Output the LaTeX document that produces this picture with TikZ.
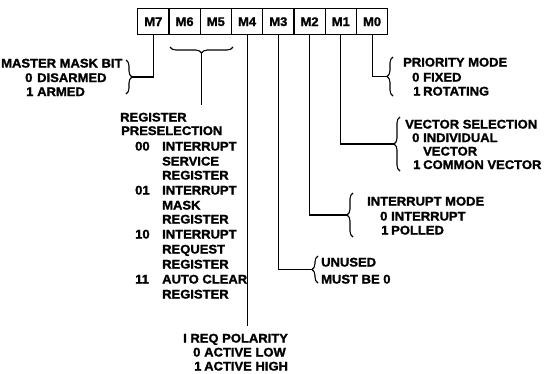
\documentclass[tikz,border=0pt]{standalone}
\usepackage{fontspec}
\newfontfamily\labfont{Liberation Sans}[UprightFont={* Bold},FakeStretch=1.04,FakeBold=1.5]
\usetikzlibrary{decorations.pathreplacing}
\begin{document}
\begin{tikzpicture}[x=1pt,y=-1pt,
  lab/.style={anchor=base west,inner sep=0pt,font=\labfont\fontsize{12.5}{14}\selectfont},
  bit/.style={draw,line width=1.4pt,minimum width=31.25pt,minimum height=26pt,inner sep=0pt,anchor=north west,font=\labfont\fontsize{12.5}{14}\selectfont},
  wire/.style={line width=1.1pt},
  brc/.style={line width=1.1pt,decorate,decoration={brace,amplitude=6pt}}]
\useasboundingbox (0,0) rectangle (547,373);
% register boxes
\node[bit] (m7) at (137.00,8) {M7};
\node[bit] (m6) at (168.25,8) {M6};
\node[bit] (m5) at (199.50,8) {M5};
\node[bit] (m4) at (230.75,8) {M4};
\node[bit] (m3) at (262.00,8) {M3};
\node[bit] (m2) at (293.25,8) {M2};
\node[bit] (m1) at (324.50,8) {M1};
\node[bit] (m0) at (355.75,8) {M0};
% M7
\draw[brc] (126,60) -- (126,94);
\coordinate (t7) at (132,77);
\draw[wire] (m7.south) |- (t7);
\node[lab] (a1) at (1,67.5) {MASTER MASK BIT};
\node[lab] (a2) at (25,82) {0};
\node[lab] (a3) at (37,82) {DISARMED};
\node[lab] (a4) at (26,96) {1};
\node[lab] (a5) at (37,96) {ARMED};
% M6 M5
\draw[brc] (233,47) -- (170,47);
\coordinate (t65) at (201.5,53);
\coordinate (e65) at (201.5,105);
\draw[wire] (t65) -- (e65);
\node[lab] (r1) at (120,121.5) {REGISTER};
\node[lab] (r2) at (121,135) {PRESELECTION};
\node[lab] (r3) at (135,150.5) {00};
\node[lab] (r4) at (162,150.5) {INTERRUPT};
\node[lab] (r5) at (162,165.5) {SERVICE};
\node[lab] (r6) at (162,179.5) {REGISTER};
\node[lab] (r7) at (135,194.5) {01};
\node[lab] (r8) at (162,194.5) {INTERRUPT};
\node[lab] (r9) at (162,209.5) {MASK};
\node[lab] (r10) at (162,223.5) {REGISTER};
\node[lab] (r11) at (135,238.5) {10};
\node[lab] (r12) at (162,238.5) {INTERRUPT};
\node[lab] (r13) at (162,253.5) {REQUEST};
\node[lab] (r14) at (162,268.5) {REGISTER};
\node[lab] (r15) at (135,283.5) {11};
\node[lab] (r16) at (162,283.5) {AUTO CLEAR};
\node[lab] (r17) at (162,298.5) {REGISTER};
% M4
\coordinate (e4) at (m4.south |- 0,326);
\draw[wire] (m4.south) -- (e4);
\node[lab] (p1) at (183,342.5) {I REQ POLARITY};
\node[lab] (p2) at (193,356.5) {0};
\node[lab] (p3) at (204,356.5) {ACTIVE LOW};
\node[lab] (p4) at (194,370.5) {1};
\node[lab] (p5) at (204,370.5) {ACTIVE HIGH};
% M3
\draw[brc] (318,283) -- (318,256);
\coordinate (t3) at (312,269.5);
\draw[wire] (m3.south) |- (t3);
\node[lab] (u1) at (321,266.5) {UNUSED};
\node[lab] (u2) at (321,283.5) {MUST BE 0};
% M2
\draw[brc] (353,237) -- (353,193);
\coordinate (t2) at (347,215);
\draw[wire] (m2.south) |- (t2);
\node[lab] (i1) at (367,205.5) {INTERRUPT MODE};
\node[lab] (i2) at (380,220.5) {0};
\node[lab] (i3) at (391,220.5) {INTERRUPT};
\node[lab] (i4) at (381,234.5) {1};
\node[lab] (i5) at (391,234.5) {POLLED};
% M1
\draw[brc] (400,171) -- (400,117);
\coordinate (t1) at (394,144);
\draw[wire] (m1.south) |- (t1);
\node[lab] (v1) at (405,128.5) {VECTOR SELECTION};
\node[lab] (v2) at (412,142) {0};
\node[lab] (v3) at (423,142) {INDIVIDUAL};
\node[lab] (v4) at (423,155.5) {VECTOR};
\node[lab] (v5) at (413,169) {1};
\node[lab] (v6) at (423,169) {COMMON VECTOR};
% M0
\draw[brc] (393,96) -- (393,57);
\coordinate (t0) at (387,76.5);
\draw[wire] (m0.south) |- (t0);
\node[lab] (q1) at (403,66.5) {PRIORITY MODE};
\node[lab] (q2) at (412,81.5) {0};
\node[lab] (q3) at (423,81.5) {FIXED};
\node[lab] (q4) at (413,95.5) {1};
\node[lab] (q5) at (423,95.5) {ROTATING};
\end{tikzpicture}
\end{document}
